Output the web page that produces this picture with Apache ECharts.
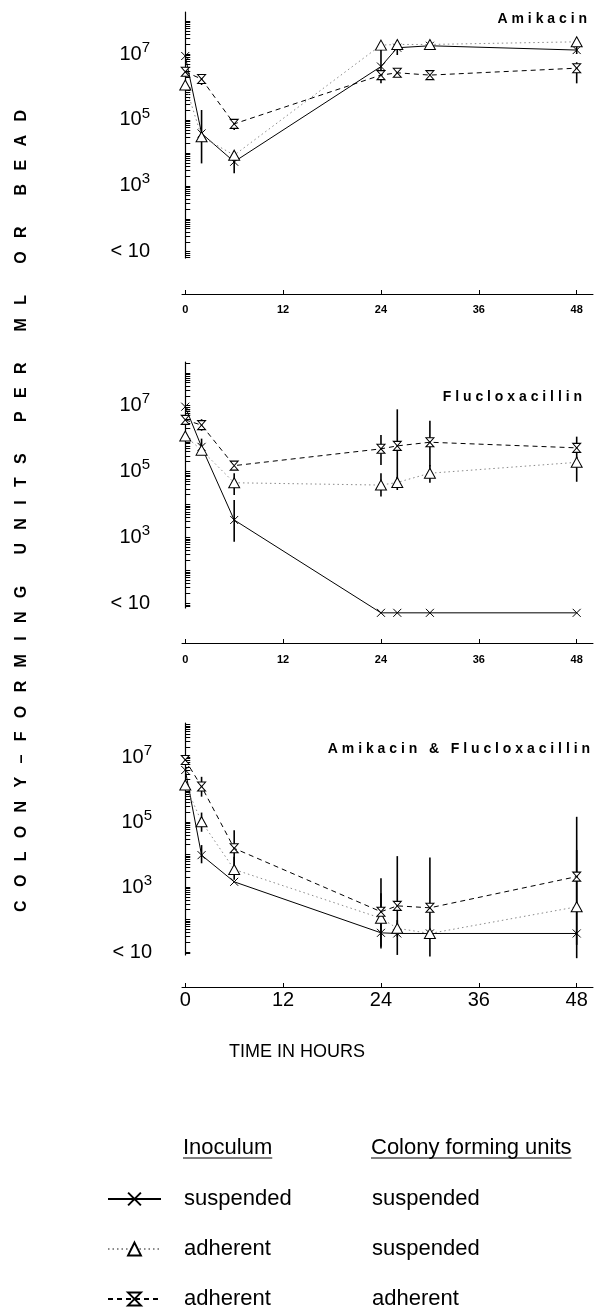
<!DOCTYPE html>
<html><head><meta charset="utf-8">
<script src="https://cdn.jsdelivr.net/npm/echarts@6/dist/echarts.min.js"></script>
<style>html,body{margin:0;padding:0;background:#fff}#c{width:594px;height:1308px}</style>
</head><body><div id="c"></div>
<script>
// ---------- data (log10 CFU per ml or bead) ----------
const hours = [0, 2, 6, 24, 26, 30, 48];
const xTicks = [0, 12, 24, 36, 48];
const yTickExponents = [1, 3, 5, 7];
const panelTitles = ['Amikacin', 'Flucloxacillin', 'Amikacin & Flucloxacillin'];
const seriesKeys = ['ss', 'as', 'aa'];
const inoculumLabels = ['suspended', 'adherent', 'adherent'];
const cfuLabels = ['suspended', 'suspended', 'adherent'];

// Amikacin
const amiSusp    = [6.94, 4.59, 3.73, 6.62, 7.19, 7.25, 7.12];
const amiAdhSusp = [6.06, 4.49, 3.93, 7.27, 7.29, 7.29, 7.37];
const amiAdhAdh  = [6.46, 6.24, 4.88, 6.36, 6.43, 6.36, 6.57];
const amiSuspErr    = [null, [3.68, 5.30], [3.38, 4.03], null, [6.97, 7.37], null, [7.00, 7.42]];
const amiAdhSuspErr = [null, null, null, [6.11, 7.27], null, null, null];
const amiAdhAdhErr  = [null, [6.06, 6.36], [4.69, 5.02], null, null, null, [6.11, 6.75]];

// Flucloxacillin
const fluSusp    = [6.97, 5.75, 3.53, 0.71, 0.71, 0.71, 0.71];
const fluAdhSusp = [6.08, 5.65, 4.66, 4.59, 4.67, 4.95, 5.28];
const fluAdhAdh  = [6.57, 6.41, 5.18, 5.69, 5.78, 5.89, 5.72];
const fluSuspErr    = [null, [5.56, 6.00], [2.87, 4.14], null, null, null, null];
const fluAdhSuspErr = [null, null, [4.29, 4.95], [4.24, 4.95], [4.44, 4.84], [4.66, 5.20], [4.69, 5.45]];
const fluAdhAdhErr  = [null, [6.24, 6.59], null, [5.20, 6.11], [4.69, 6.89], [5.15, 6.54], [5.40, 6.06]];

// Amikacin & Flucloxacillin
const comSusp    = [6.60, 3.98, 3.16, 1.59, 1.57, 1.57, 1.57];
const comAdhSusp = [6.14, 5.01, 3.54, 2.04, 1.73, 1.57, 2.39];
const comAdhAdh  = [6.91, 6.09, 4.19, 2.24, 2.42, 2.36, 3.32];
const comSuspErr    = [null, [3.73, 4.29], null, null, null, null, null];
const comAdhSuspErr = [null, [4.70, 5.29], [3.22, 3.93], [1.16, 2.81], [1.47, 1.98], null, [0.81, 4.14]];
const comAdhAdhErr  = [null, [5.78, 6.39], [3.68, 4.75], [1.11, 3.27], [0.91, 3.95], [0.86, 3.91], [1.22, 5.16]];

// ---------- layout ----------
const FONT = '"Liberation Sans", Arial, Helvetica, sans-serif';
const panels = [
  {vals: [amiSusp, amiAdhSusp, amiAdhAdh], errs: [amiSuspErr, amiAdhSuspErr, amiAdhAdhErr],
   top: 12, height: 246, yMin: 0.809, yMax: 8.275, yOff: 16, xOff: 36, xFont: 11, xBold: true, xMargin: 10, titleTop: 12, titleRight: 7},
  {vals: [fluSusp, fluAdhSusp, fluAdhAdh], errs: [fluSuspErr, fluAdhSuspErr, fluAdhAdhErr],
   top: 362, height: 246, yMin: 0.857, yMax: 8.327, yOff: 16, xOff: 35, xFont: 11, xBold: true, xMargin: 11, titleTop: 390, titleRight: 12},
  {vals: [comSusp, comAdhSusp, comAdhAdh], errs: [comSuspErr, comAdhSuspErr, comAdhAdhErr],
   top: 723, height: 232, yMin: 0.908, yMax: 8.046, yOff: 14, xOff: 32, xFont: 20, xBold: false, xMargin: 3, titleTop: 742, titleRight: 4}
];

const styles = {
  ss: {symbol: 'path://M0,0L10,10M10,0L0,10', size: [8, 8], line: {color: '#000', width: 1, type: 'solid'}},
  as: {symbol: 'triangle', size: [11, 10], line: {color: '#8a8a8a', width: 1, type: [1.5, 3]}},
  aa: {symbol: 'path://M0,0L10,0L0,10L10,10Z', size: [8, 9], line: {color: '#000', width: 1, type: [5, 4]}}
};

function spaced(s, intra, inter) {
  return s.split(' ').map(w => w.split('').join(intra)).join(inter);
}
function logTicks(min, max) {
  const out = [];
  for (let k = 0; k <= 9; k++) for (let m = 1; m <= 9; m++) {
    const v = k + Math.log10(m);
    if (v >= min && v <= max) out.push(v);
  }
  return out;
}

const grid = [], xAxis = [], yAxis = [], series = [], title = [];
panels.forEach((p, pi) => {
  grid.push({left: 182, right: 1, top: p.top, height: p.height, outerBoundsMode: 'none', containLabel: false});
  xAxis.push({
    type: 'value', gridIndex: pi, min: -0.4, max: 50, offset: p.xOff,
    axisLine: {show: true, lineStyle: {color: '#000', width: 1}},
    axisTick: {show: true, inside: true, length: 4, customValues: xTicks, lineStyle: {color: '#000'}},
    axisLabel: {show: true, customValues: xTicks, margin: p.xMargin, color: '#000', fontSize: p.xFont,
      fontWeight: p.xBold ? 'bold' : 'normal', fontFamily: FONT},
    splitLine: {show: false}
  });
  yAxis.push({
    type: 'value', gridIndex: pi, min: p.yMin, max: p.yMax, offset: p.yOff,
    axisLine: {show: true, lineStyle: {color: '#000', width: 1.2}},
    axisTick: {show: true, inside: true, length: 5, customValues: logTicks(p.yMin, p.yMax), lineStyle: {color: '#000', width: 1}},
    axisLabel: {show: true, customValues: yTickExponents, margin: 16, color: '#000',
      formatter: v => Math.abs(v - 1) < 1e-9 ? '{b|< 10}' : '{b|10}{s|' + Math.round(v) + '}',
      rich: {
        b: {fontSize: 20, fontFamily: FONT, color: '#000', lineHeight: 28, verticalAlign: 'middle'},
        s: {fontSize: 15, fontFamily: FONT, color: '#000', lineHeight: 28, verticalAlign: 'top'}
      }},
    splitLine: {show: false}
  });
  title.push({text: spaced(panelTitles[pi], ' ', '   '), right: p.titleRight, top: p.titleTop, padding: 0,
    textStyle: {fontSize: 14, fontWeight: 'bold', fontFamily: FONT, color: '#000'}});

  seriesKeys.forEach((key, si) => {
    const st = styles[key];
    const errData = [];
    p.errs[si].forEach((e, i) => { if (e) errData.push([hours[i], e[0], e[1]]); });
    series.push({
      type: 'custom', name: key + '_err', xAxisIndex: pi, yAxisIndex: pi, clip: false, z: 2,
      encode: {x: 0, y: [1, 2]}, data: errData, silent: true,
      renderItem: (params, api) => {
        const a = api.coord([api.value(0), api.value(1)]);
        const b = api.coord([api.value(0), api.value(2)]);
        return {type: 'line', shape: {x1: a[0], y1: a[1], x2: b[0], y2: b[1]},
          style: {stroke: '#000', lineWidth: 1.6}};
      }
    });
    series.push({
      type: 'line', name: key, xAxisIndex: pi, yAxisIndex: pi, clip: false, z: 3,
      data: hours.map((t, i) => [t, p.vals[si][i]]),
      symbol: st.symbol, symbolSize: st.size, showAllSymbol: true,
      lineStyle: st.line,
      itemStyle: {color: '#fff', borderColor: '#000', borderWidth: 1},
      emphasis: {disabled: true}
    });
  });
});

// measure header widths for underlines
const ctx = document.createElement('canvas').getContext('2d');
ctx.font = '22px ' + FONT;
const wInoc = ctx.measureText('Inoculum').width;
const wCfu = ctx.measureText('Colony forming units').width;

const option = {
  backgroundColor: '#fff',
  animation: false,
  title: title,
  grid: grid, xAxis: xAxis, yAxis: yAxis, series: series,
  legend: {
    data: seriesKeys, orient: 'vertical', left: 107, top: 1188, height: 130, itemWidth: 53, itemHeight: 16, itemGap: 28,
    padding: 0, selectedMode: false,
    formatter: name => {
      const i = seriesKeys.indexOf(name);
      return '{p| }{a|' + inoculumLabels[i] + '}{b|' + cfuLabels[i] + '}';
    },
    textStyle: {fontFamily: FONT, fontSize: 22, color: '#000', lineHeight: 18,
      rich: {p: {width: 18, fontSize: 22, lineHeight: 18},
             a: {width: 188, fontSize: 22, fontFamily: FONT, color: '#000', lineHeight: 18},
             b: {fontSize: 22, fontFamily: FONT, color: '#000', lineHeight: 18}}}
  },
  graphic: [
    {type: 'text', x: 22, y: 511, rotation: Math.PI / 2,
     style: {text: spaced('COLONY\u2013FORMING UNITS PER ML OR BEAD', '   ', '       '), fontSize: 16, fontWeight: 'bold',
             fontFamily: FONT, fill: '#000', align: 'center', verticalAlign: 'middle'}},
    {type: 'text', x: 297, y: 1052,
     style: {text: 'TIME IN HOURS', fontSize: 18, fontFamily: FONT, fill: '#000', align: 'center', verticalAlign: 'middle'}},
    {type: 'text', x: 183, y: 1148,
     style: {text: 'Inoculum', fontSize: 22, fontFamily: FONT, fill: '#000', align: 'left', verticalAlign: 'middle'}},
    {type: 'line', shape: {x1: 183, y1: 1158, x2: 183 + wInoc, y2: 1158}, style: {stroke: '#000', lineWidth: 1}},
    {type: 'text', x: 371, y: 1148,
     style: {text: 'Colony forming units', fontSize: 22, fontFamily: FONT, fill: '#000', align: 'left', verticalAlign: 'middle'}},
    {type: 'line', shape: {x1: 371, y1: 1158, x2: 371 + wCfu, y2: 1158}, style: {stroke: '#000', lineWidth: 1}}
  ]
};

const chart = echarts.init(document.getElementById('c'), null, {renderer: 'canvas'});
chart.setOption(option);
</script>
</body></html>
